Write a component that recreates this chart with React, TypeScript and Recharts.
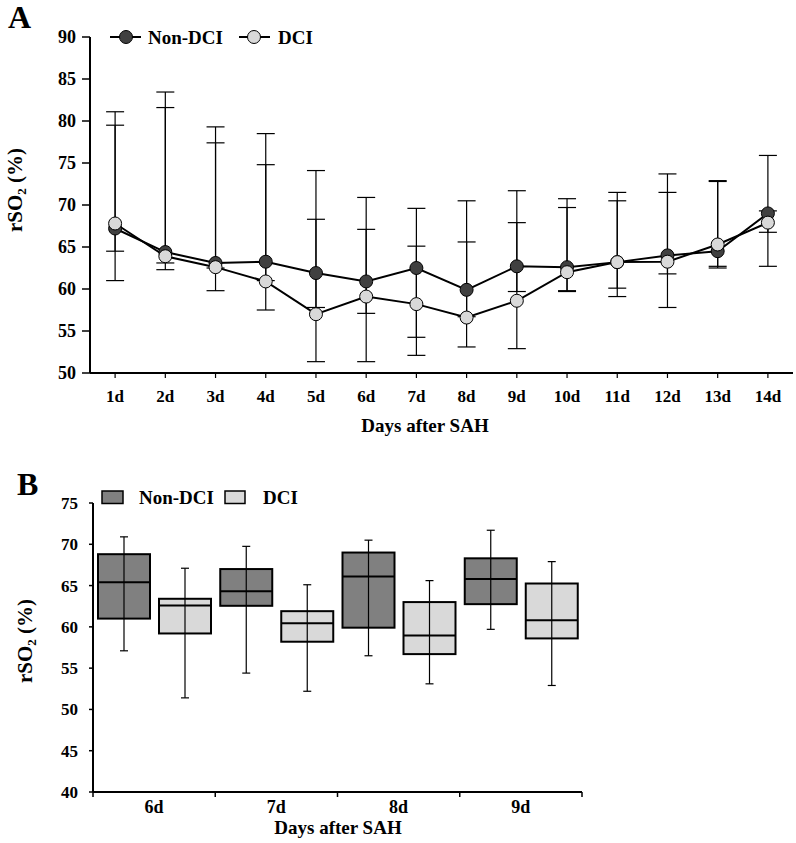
import { ComposedChart, Line, Bar, XAxis, YAxis, ErrorBar } from 'recharts'

const FONT = "'Liberation Serif', 'Times New Roman', serif"

// panel A: mean rSO2 by day with error bars
const days = ['1d', '2d', '3d', '4d', '5d', '6d', '7d', '8d', '9d', '10d', '11d', '12d', '13d', '14d']
const nonDciMean = [67.2, 64.4, 63.1, 63.25, 61.9, 60.9, 62.5, 59.9, 62.7, 62.6, 63.2, 64.0, 64.5, 69.0]
const dciMean = [67.8, 63.9, 62.6, 60.9, 57.0, 59.1, 58.2, 56.6, 58.6, 62.0, 63.2, 63.25, 65.3, 67.9]
const nonDciHigh = [81.1, 83.45, 79.3, 78.5, 74.1, 70.9, 69.6, 70.5, 71.7, 70.75, 71.5, 73.7, 72.9, 75.9]
const nonDciLow = [64.5, 63.1, 62.5, 61.0, 57.8, 57.1, 54.25, 56.7, 59.7, 59.8, 60.1, 61.8, 62.7, 66.75]
const dciHigh = [79.5, 81.6, 77.4, 74.8, 68.3, 67.1, 65.1, 65.6, 67.9, 69.7, 70.5, 71.5, 72.8, 69.3]
const dciLow = [61.0, 62.3, 59.8, 57.5, 51.35, 51.35, 52.1, 53.1, 52.9, 59.7, 59.1, 57.8, 62.5, 62.7]
const ticksA = [50, 55, 60, 65, 70, 75, 80, 85, 90]

// panel B: box plots days 6-9
const boxDays = ['6d', '7d', '8d', '9d']
const nonDciMin = [57.1, 54.4, 56.5, 59.7]
const nonDciQ1 = [61.0, 62.55, 59.9, 62.75]
const nonDciMedian = [65.4, 64.3, 66.1, 65.8]
const nonDciQ3 = [68.8, 67.0, 69.0, 68.3]
const nonDciMax = [70.9, 69.75, 70.5, 71.7]
const dciMin = [51.4, 52.2, 53.1, 52.9]
const dciQ1 = [59.2, 58.2, 56.7, 58.6]
const dciMedian = [62.6, 60.45, 58.95, 60.8]
const dciQ3 = [63.4, 61.9, 63.0, 65.25]
const dciMax = [67.1, 65.1, 65.6, 67.9]
const ticksB = [40, 45, 50, 55, 60, 65, 70, 75]

const lineData = days.map((day, i) => ({
  day,
  nonDci: nonDciMean[i],
  dci: dciMean[i],
  nonErr: [nonDciMean[i] - nonDciLow[i], nonDciHigh[i] - nonDciMean[i]],
  dciErr: [dciMean[i] - dciLow[i], dciHigh[i] - dciMean[i]],
}))

const boxData = boxDays.map((day, i) => ({
  day,
  non: [nonDciQ1[i], nonDciQ3[i]],
  dci: [dciQ1[i], dciQ3[i]],
  nonMin: nonDciMin[i], nonQ1: nonDciQ1[i], nonMed: nonDciMedian[i], nonQ3: nonDciQ3[i], nonMax: nonDciMax[i],
  dciMin: dciMin[i], dciQ1: dciQ1[i], dciMed: dciMedian[i], dciQ3: dciQ3[i], dciMax: dciMax[i],
}))

const DARK = '#404040'
const LIGHT = '#d9d9d9'
const BOX_DARK = '#808080'

const tickStyle = { fill: '#000', fontFamily: FONT, fontWeight: 'bold' as const }

function makeBox(prefix: 'non' | 'dci', fill: string) {
  return (props: any) => {
    const { x, y, width, height, payload } = props
    const q1 = payload[prefix + 'Q1']
    const q3 = payload[prefix + 'Q3']
    const top = Math.min(y, y + height)
    const h = Math.abs(height)
    const k = h / (q3 - q1)
    const py = (v: number) => top + (q3 - v) * k
    const cx = x + width / 2
    const yMax = py(payload[prefix + 'Max'])
    const yMin = py(payload[prefix + 'Min'])
    const yMed = py(payload[prefix + 'Med'])
    return (
      <g>
        <rect x={x} y={top} width={width} height={h} fill={fill} stroke="#000" strokeWidth={2} />
        <line x1={cx} x2={cx} y1={yMax} y2={yMin} stroke="#000" strokeWidth={1.2} />
        <line x1={cx - 4} x2={cx + 4} y1={yMax} y2={yMax} stroke="#000" strokeWidth={1.2} />
        <line x1={cx - 4} x2={cx + 4} y1={yMin} y2={yMin} stroke="#000" strokeWidth={1.2} />
        <line x1={x} x2={x + width} y1={yMed} y2={yMed} stroke="#000" strokeWidth={2} />
      </g>
    )
  }
}

// category tick with tick marks on the band edges
function EdgeTick(props: any) {
  const { x, y, payload, index, visibleTicksCount } = props
  const half = payload.offset ?? 0
  const axisY = y - 8
  const last = index === (visibleTicksCount ?? boxDays.length) - 1
  return (
    <g>
      <line x1={x - half} x2={x - half} y1={axisY} y2={axisY + 5} stroke="#000" strokeWidth={1.5} />
      {last && <line x1={x + half} x2={x + half} y1={axisY} y2={axisY + 5} stroke="#000" strokeWidth={1.5} />}
      <text x={x} y={y} dy="0.71em" textAnchor="middle" fontSize={18} {...tickStyle}>
        {payload.value}
      </text>
    </g>
  )
}

function YTitle({ x, y }: { x: number; y: number }) {
  return (
    <text
      x={x}
      y={y}
      transform={`rotate(-90 ${x} ${y})`}
      textAnchor="middle"
      fontFamily={FONT}
      fontWeight="bold"
      fontSize={21}
      fill="#000"
    >
      rSO<tspan fontSize={13} dy={4}>2</tspan>
      <tspan dy={-4}> (%)</tspan>
    </text>
  )
}

function Overlay() {
  const txt = { fontFamily: FONT, fontWeight: 'bold' as const, fill: '#000' }
  return (
    <svg width={796} height={843} style={{ position: 'absolute', left: 0, top: 0, pointerEvents: 'none' }}>
      <text x={8} y={28} fontSize={32} {...txt}>A</text>
      <text x={17} y={495} fontSize={32} {...txt}>B</text>
      <YTitle x={22} y={190} />
      <YTitle x={32} y={641} />
      <text x={425} y={432} fontSize={19} textAnchor="middle" {...txt}>Days after SAH</text>
      <text x={338} y={834} fontSize={19} textAnchor="middle" {...txt}>Days after SAH</text>

      {/* legend A */}
      <line x1={110} x2={141} y1={37} y2={37} stroke="#000" strokeWidth={2} />
      <circle cx={126} cy={37} r={6.5} fill={DARK} stroke="#000" strokeWidth={1} />
      <text x={148} y={44} fontSize={19} {...txt}>Non-DCI</text>
      <line x1={239} x2={270} y1={37} y2={37} stroke="#000" strokeWidth={2} />
      <circle cx={254} cy={37} r={6.5} fill={LIGHT} stroke="#000" strokeWidth={1} />
      <text x={278} y={44} fontSize={19} {...txt}>DCI</text>

      {/* legend B */}
      <rect x={102} y={491} width={21} height={12.5} fill={BOX_DARK} stroke="#000" strokeWidth={1.5} />
      <text x={139} y={504} fontSize={19} {...txt}>Non-DCI</text>
      <rect x={225} y={491} width={20} height={12.5} fill={LIGHT} stroke="#000" strokeWidth={1.5} />
      <text x={263} y={504} fontSize={19} {...txt}>DCI</text>
    </svg>
  )
}

export default function App() {
  return (
    <div style={{ position: 'absolute', left: 0, top: 0, width: 796, height: 843, background: '#fff' }}>
      <div style={{ position: 'absolute', left: 0, top: 0 }}>
        <ComposedChart width={796} height={450} data={lineData} margin={{ top: 37, right: 3, bottom: 47, left: 30 }}>
          <XAxis
            dataKey="day"
            scale="band"
            axisLine={{ stroke: '#000', strokeWidth: 2 }}
            tickLine={{ stroke: '#000', strokeWidth: 1.2 }}
            tickSize={5}
            tickMargin={12}
            height={30}
            interval={0}
            tick={{ ...tickStyle, fontSize: 17 }}
          />
          <YAxis
            domain={[50, 90]}
            ticks={ticksA}
            width={60}
            axisLine={{ stroke: '#000', strokeWidth: 2 }}
            tickLine={{ stroke: '#000', strokeWidth: 1.5 }}
            tickSize={8}
            tickMargin={6}
            tick={{ ...tickStyle, fontSize: 18 }}
            allowDataOverflow
          />
          <Line dataKey="nonDci" stroke="none" dot={false} activeDot={false} isAnimationActive={false} legendType="none">
            <ErrorBar dataKey="nonErr" width={9} stroke="#000" strokeWidth={1.2} direction="y" />
          </Line>
          <Line dataKey="dci" stroke="none" dot={false} activeDot={false} isAnimationActive={false} legendType="none">
            <ErrorBar dataKey="dciErr" width={9} stroke="#000" strokeWidth={1.2} direction="y" />
          </Line>
          <Line dataKey="nonDci" stroke="#000" strokeWidth={2} dot={false} activeDot={false} isAnimationActive={false} />
          <Line dataKey="dci" stroke="#000" strokeWidth={2} dot={false} activeDot={false} isAnimationActive={false} />
          <Line
            dataKey="nonDci"
            stroke="none"
            dot={{ r: 6.5, fill: DARK, stroke: '#000', strokeWidth: 1 }}
            activeDot={false}
            isAnimationActive={false}
          />
          <Line
            dataKey="dci"
            stroke="none"
            dot={{ r: 6.5, fill: LIGHT, stroke: '#000', strokeWidth: 1 }}
            activeDot={false}
            isAnimationActive={false}
          />
        </ComposedChart>
      </div>
      <div style={{ position: 'absolute', left: 0, top: 440 }}>
        <ComposedChart
          width={796}
          height={403}
          data={boxData}
          margin={{ top: 63, right: 214, bottom: 21, left: 33 }}
          barCategoryGap={5}
          barGap={9}
        >
          <XAxis
            dataKey="day"
            axisLine={{ stroke: '#000', strokeWidth: 2 }}
            tickLine={false}
            tickSize={5}
            tickMargin={3}
            height={30}
            interval={0}
            tick={<EdgeTick />}
          />
          <YAxis
            domain={[40, 75]}
            ticks={ticksB}
            width={60}
            axisLine={{ stroke: '#000', strokeWidth: 2 }}
            tickLine={{ stroke: '#000', strokeWidth: 1.5 }}
            tickSize={4}
            tickMargin={11}
            tick={{ ...tickStyle, fontSize: 17 }}
            allowDataOverflow
          />
          <Bar dataKey="non" shape={makeBox('non', BOX_DARK)} isAnimationActive={false} />
          <Bar dataKey="dci" shape={makeBox('dci', LIGHT)} isAnimationActive={false} />
        </ComposedChart>
      </div>
      <Overlay />
    </div>
  )
}
